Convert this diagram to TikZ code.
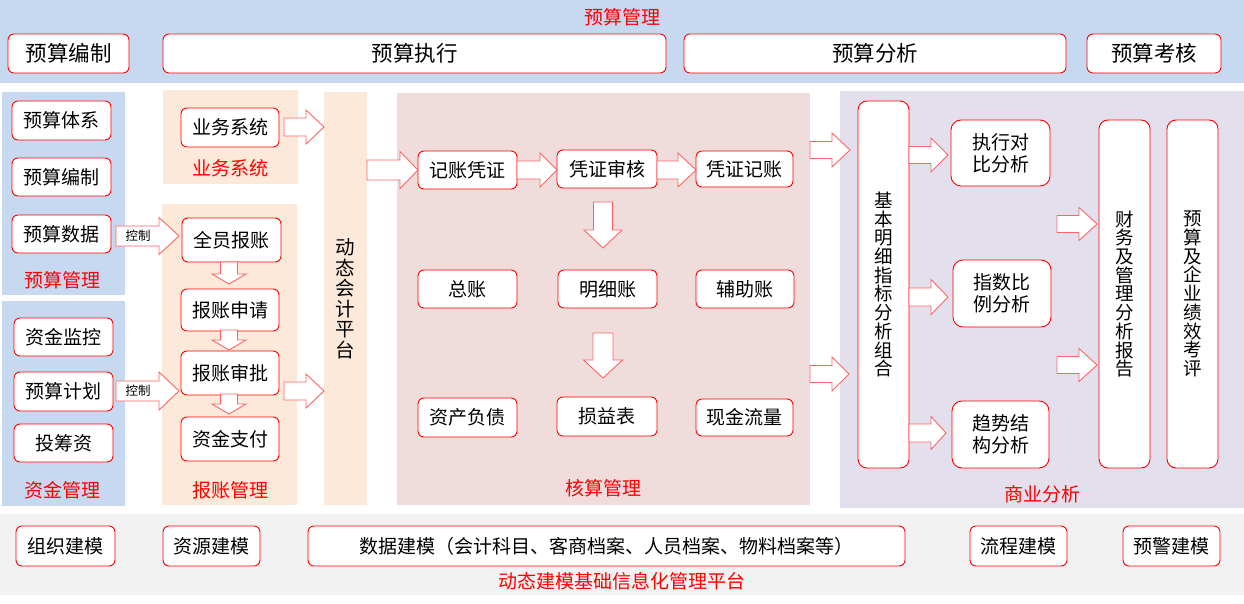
\documentclass[tikz,border=0pt]{standalone}
\usepackage{fontspec}
\setmainfont{Noto Sans CJK SC}
\definecolor{pblue}{HTML}{C6D9F0}
\definecolor{porange}{HTML}{FDE9D9}
\definecolor{ppink}{HTML}{F0DCDB}
\definecolor{ppurple}{HTML}{E4DFEC}
\definecolor{pgray}{HTML}{F2F2F2}
\definecolor{arrred}{HTML}{FF6464}
\newcommand\harr[6]{\draw[barrow] ({#1},{#4-#5}) -- ({#2},{#4-#5}) -- ({#2},{#4-#6}) -- ({#3},{#4}) -- ({#2},{#4+#6}) -- ({#2},{#4+#5}) -- ({#1},{#4+#5}) -- cycle;}
\newcommand\varr[6]{\draw[barrow] ({#4-#5},{#1}) -- ({#4-#5},{#2}) -- ({#4-#6},{#2}) -- ({#4},{#3}) -- ({#4+#6},{#2}) -- ({#4+#5},{#2}) -- ({#4+#5},{#1}) -- cycle;}
\begin{document}
\begin{tikzpicture}[x=1pt,y=-1pt,
  box/.style={draw=red, fill=white, rounded corners=6pt, line width=0.9pt, inner sep=0pt, align=center, font=\fontsize{19}{21}\selectfont},
  tbox/.style={box, font=\fontsize{21.5}{23}\selectfont},
  vbox/.style={box, rounded corners=9pt, font=\fontsize{18.5}{18.7}\selectfont},
  lbl/.style={text=red, inner sep=0pt, font=\fontsize{19}{20}\selectfont},
  ctl/.style={inner sep=0pt, font=\fontsize{12.5}{13}\selectfont},
  barrow/.style={draw=arrred, fill=white, line width=0.9pt, line join=miter}]
\useasboundingbox (0,0) rectangle (1244,604);
% panels
\fill[white] (0,0) rectangle (1244,604);
\fill[pblue] (0,0) rectangle (1244,83);
\fill[pblue] (2,92) rectangle (125,295);
\fill[pblue] (2,301) rectangle (125,506);
\fill[porange] (163,90) rectangle (298,184);
\fill[porange] (162,204) rectangle (297,505);
\fill[ppink] (397,93) rectangle (810,505);
\fill[ppurple] (840,91) rectangle (1244,508);
\fill[pgray] (0,514) rectangle (1244,595);
\node[fill=porange, inner sep=0pt, minimum width=43, minimum height=413, font=\fontsize{19.5}{20.5}\selectfont, align=center] (plat) at (345.5,298.5) {动\\态\\会\\计\\平\\台};
% labels
\node[lbl] (t0) at (622,17) {预算管理};
\node[lbl] (l1) at (62,280) {预算管理};
\node[lbl] (l2) at (62,490) {资金管理};
\node[lbl] (l3) at (230,168) {业务系统};
\node[lbl] (l4) at (230,490) {报账管理};
\node[lbl] (l5) at (603,488) {核算管理};
\node[lbl] (l6) at (1042,494) {商业分析};
\node[lbl] (l7) at (622,581) {动态建模基础信息化管理平台};
% top boxes
\node[tbox, minimum width=121, minimum height=39] (tb1) at (68.5,53.5) {预算编制};
\node[tbox, minimum width=503, minimum height=39] (tb2) at (414.5,53.5) {预算执行};
\node[tbox, minimum width=382, minimum height=39] (tb3) at (875,53.5) {预算分析};
\node[tbox, minimum width=134, minimum height=39] (tb4) at (1154,53.5) {预算考核};
% left boxes
\node[box, minimum width=99, minimum height=39] (ys1) at (61.5,120.5) {预算体系};
\node[box, minimum width=99, minimum height=38] (ys2) at (61.5,177) {预算编制};
\node[box, minimum width=99, minimum height=38] (ys3) at (61.5,234) {预算数据};
\node[box, minimum width=99, minimum height=38] (zj1) at (63.5,337) {资金监控};
\node[box, minimum width=99, minimum height=39] (zj2) at (63.5,391.5) {预算计划};
\node[box, minimum width=99, minimum height=38] (zj3) at (63.5,443) {投筹资};
% orange boxes
\node[box, minimum width=98, minimum height=39] (yw) at (230,127.5) {业务系统};
\node[box, minimum width=99, minimum height=44] (bz1) at (231.5,240) {全员报账};
\node[box, minimum width=98, minimum height=42] (bz2) at (230,310) {报账申请};
\node[box, minimum width=98, minimum height=44] (bz3) at (230,373) {报账审批};
\node[box, minimum width=98, minimum height=44] (bz4) at (230,439) {资金支付};
% pink boxes
\node[box, minimum width=99, minimum height=38] (hs1) at (467.5,170) {记账凭证};
\node[box, minimum width=100, minimum height=38] (hs2) at (607,169) {凭证审核};
\node[box, minimum width=97, minimum height=36] (hs3) at (744.5,169) {凭证记账};
\node[box, minimum width=99, minimum height=38] (hs4) at (467.5,289) {总账};
\node[box, minimum width=99, minimum height=38] (hs5) at (607.5,289) {明细账};
\node[box, minimum width=98, minimum height=38] (hs6) at (745,289) {辅助账};
\node[box, minimum width=99, minimum height=39] (hs7) at (467.5,417.5) {资产负债};
\node[box, minimum width=100, minimum height=39] (hs8) at (607,416.5) {损益表};
\node[box, minimum width=97, minimum height=37] (hs9) at (744.5,417.5) {现金流量};
% purple boxes
\node[vbox, minimum width=51, minimum height=367] (jb) at (883.5,284.5) {基\\本\\明\\细\\指\\标\\分\\析\\组\\合};
\node[box, rounded corners=10pt, minimum width=99, minimum height=66, font=\fontsize{19}{22}\selectfont] (fx1) at (1000.5,153) {执行对\\比分析};
\node[box, rounded corners=10pt, minimum width=98, minimum height=67, font=\fontsize{19}{22}\selectfont] (fx2) at (1002,293.5) {指数比\\例分析};
\node[box, rounded corners=10pt, minimum width=97, minimum height=67, font=\fontsize{19}{22}\selectfont] (fx3) at (1000.5,434.5) {趋势结\\构分析};
\node[vbox, minimum width=51, minimum height=348] (cw) at (1124.5,294) {财\\务\\及\\管\\理\\分\\析\\报\\告};
\node[vbox, minimum width=51, minimum height=348] (kp) at (1192.5,294) {预\\算\\及\\企\\业\\绩\\效\\考\\评};
% bottom boxes
\node[box, minimum width=99, minimum height=40] (bm1) at (65.5,546) {组织建模};
\node[box, minimum width=97, minimum height=40] (bm2) at (211.5,546) {资源建模};
\node[box, minimum width=597, minimum height=40] (bm3) at (606.5,546) {数据建模（会计科目、客商档案、人员档案、物料档案等）};
\node[box, minimum width=97, minimum height=40] (bm4) at (1018.5,546) {流程建模};
\node[box, minimum width=97, minimum height=40] (bm5) at (1171.5,546) {预警建模};
% block arrows
\harr{116}{159}{179}{236}{10}{18.5}
\node[ctl] (c1) at (138,236) {控制};
\harr{116}{159}{179}{391}{10}{19}
\node[ctl] (c2) at (138,391) {控制};
\harr{284}{306}{324}{127}{9}{17}
\harr{284}{306}{324}{391}{9}{17}
\varr{262}{274}{284}{229}{8.5}{17}
\varr{330}{340}{350}{229}{8.5}{17}
\varr{394}{404}{414}{229}{8.5}{17}
\harr{367}{400}{418}{170}{10}{18.5}
\harr{517}{540}{557}{170}{9}{17}
\harr{657}{678}{696}{170}{9}{17}
\varr{202}{230}{248}{603}{9.5}{19}
\varr{333}{360}{378}{603}{10}{19.5}
\harr{810}{832}{850}{150}{8.5}{17}
\harr{810}{832}{849}{374}{8.5}{17}
\harr{909}{931}{948}{155}{8.5}{17}
\harr{909}{931}{948}{297}{9}{17.5}
\harr{909}{931}{946}{433}{9}{16.5}
\harr{1057}{1079}{1097}{224}{8.5}{16.5}
\harr{1057}{1079}{1097}{365}{8.5}{16.5}
\end{tikzpicture}
\end{document}
